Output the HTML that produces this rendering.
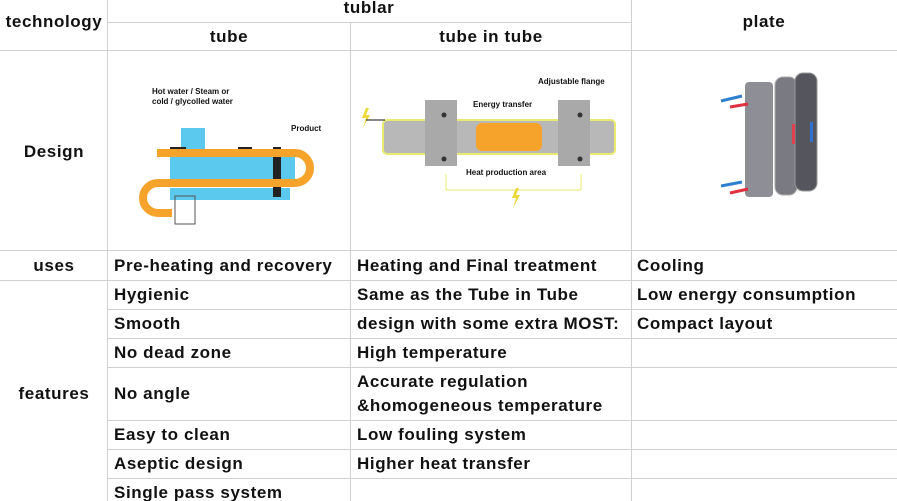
<!DOCTYPE html>
<html><head><meta charset="utf-8"><style>
html,body{margin:0;padding:0;background:#fff;}
svg{display:block;}
text{font-family:"Liberation Sans",Arial,sans-serif;font-weight:bold;font-size:17px;letter-spacing:0.6px;fill:#111;}
.s{font-size:8px;font-weight:bold;letter-spacing:0;}
</style></head><body>
<svg width="897" height="501" viewBox="0 0 897 501">
<g stroke="#d0d0d0" stroke-width="1" fill="none">
<line x1="107.5" y1="0" x2="107.5" y2="501"/>
<line x1="350.5" y1="22" x2="350.5" y2="501"/>
<line x1="631.5" y1="0" x2="631.5" y2="501"/>
<line x1="107" y1="22.5" x2="631" y2="22.5"/>
<line x1="0" y1="50.5" x2="897" y2="50.5"/>
<line x1="0" y1="250.5" x2="897" y2="250.5"/>
<line x1="0" y1="280.5" x2="897" y2="280.5"/>
<line x1="107" y1="309.5" x2="897" y2="309.5"/>
<line x1="107" y1="338.5" x2="897" y2="338.5"/>
<line x1="107" y1="367.5" x2="897" y2="367.5"/>
<line x1="107" y1="420.5" x2="897" y2="420.5"/>
<line x1="107" y1="449.5" x2="897" y2="449.5"/>
<line x1="107" y1="478.5" x2="897" y2="478.5"/>
</g>
<text x="54" y="27" text-anchor="middle">technology</text>
<text x="369" y="13" text-anchor="middle">tublar</text>
<text x="229" y="42" text-anchor="middle">tube</text>
<text x="491" y="42" text-anchor="middle">tube in tube</text>
<text x="764" y="27" text-anchor="middle">plate</text>
<text x="54" y="157" text-anchor="middle">Design</text>
<text x="54" y="271" text-anchor="middle">uses</text>
<text x="54" y="399" text-anchor="middle">features</text>
<g>
<text x="114" y="271">Pre-heating and recovery</text>
<text x="114" y="300">Hygienic</text>
<text x="114" y="329">Smooth</text>
<text x="114" y="358">No dead zone</text>
<text x="114" y="399">No angle</text>
<text x="114" y="440">Easy to clean</text>
<text x="114" y="469">Aseptic design</text>
<text x="114" y="498">Single pass system</text>
<text x="357" y="271">Heating and Final treatment</text>
<text x="357" y="300">Same as the Tube in Tube</text>
<text x="357" y="329">design with some extra MOST:</text>
<text x="357" y="358">High temperature</text>
<text x="357" y="387">Accurate regulation</text>
<text x="357" y="411">&amp;homogeneous temperature</text>
<text x="357" y="440">Low fouling system</text>
<text x="357" y="469">Higher heat transfer</text>
<text x="637" y="271">Cooling</text>
<text x="637" y="300">Low energy consumption</text>
<text x="637" y="329">Compact layout</text>
</g>
<!-- tube image -->
<g>
<rect x="181" y="128" width="24" height="30" fill="#5bc8ee"/>
<rect x="170" y="149" width="125" height="33" fill="#5bc8ee"/>
<rect x="170" y="188" width="120" height="12" fill="#5bc8ee"/>
<rect x="170" y="147" width="16" height="6" fill="#222"/><rect x="238" y="147" width="14" height="6" fill="#222"/><rect x="273" y="147" width="8" height="50" fill="#222"/>
<path d="M157 153 H295 A15 15 0 0 1 295 183 H158 A15 15 0 0 0 158 213 H172" stroke="#f6a32c" stroke-width="8" fill="none"/>
<rect x="175" y="196" width="20" height="28" fill="none" stroke="#555"/>
<text class="s" x="152" y="94">Hot water / Steam or</text>
<text class="s" x="152" y="104">cold / glycolled water</text>
<text class="s" x="291" y="131">Product</text>
</g>
<!-- tube in tube -->
<g>
<text class="s" x="538" y="84">Adjustable flange</text>
<rect x="383" y="120" width="232" height="34" rx="4" fill="#b8b8b8" stroke="#eaea70" stroke-width="2"/>
<rect x="476" y="123" width="66" height="28" rx="6" fill="#f6a32c"/>
<rect x="425" y="100" width="32" height="66" fill="#a9a9a9"/>
<rect x="558" y="100" width="32" height="66" fill="#a9a9a9"/>
<circle cx="444" cy="115" r="2.5" fill="#333"/><circle cx="444" cy="159" r="2.5" fill="#333"/>
<circle cx="580" cy="115" r="2.5" fill="#333"/><circle cx="580" cy="159" r="2.5" fill="#333"/>
<path d="M446 174 V190 H581 V174" stroke="#eaea70" fill="none"/>
<text class="s" x="473" y="107">Energy transfer</text>
<text class="s" x="466" y="175">Heat production area</text>
<path d="M366 108 l-4 10 h4 l-3 10 l7 -13 h-4 l3 -7z" fill="#ecd93a"/>
<path d="M516 188 l-4 10 h4 l-3 10 l7 -13 h-4 l3 -7z" fill="#ecd93a"/>
<line x1="366" y1="120" x2="385" y2="120" stroke="#111"/>
</g>
<!-- plate -->
<g>
<rect x="745" y="82" width="28" height="115" rx="4" fill="#8e8e96"/>
<rect x="775" y="77" width="22" height="118" rx="8" fill="#7a7a82" stroke="#aaa"/>
<rect x="795" y="73" width="22" height="118" rx="8" fill="#55555d" stroke="#999"/>
<rect x="792" y="124" width="3" height="20" fill="#e04050"/>
<rect x="810" y="122" width="3" height="20" fill="#3070d0"/>
<line x1="721" y1="101" x2="742" y2="96" stroke="#2f7fd0" stroke-width="3"/>
<line x1="730" y1="107" x2="748" y2="104" stroke="#e03040" stroke-width="3"/>
<line x1="721" y1="186" x2="742" y2="182" stroke="#2f7fd0" stroke-width="3"/>
<line x1="730" y1="193" x2="748" y2="189" stroke="#e03040" stroke-width="3"/>
</g>
</svg>
</body></html>
